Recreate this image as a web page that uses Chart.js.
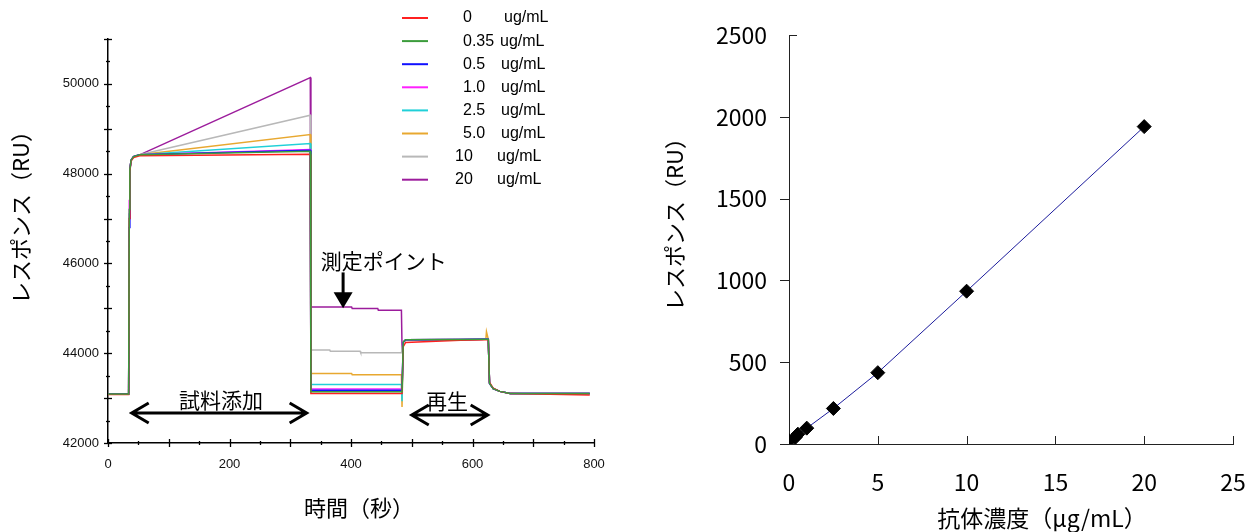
<!DOCTYPE html>
<html lang="ja">
<head>
    <meta charset="UTF-8">
    <title>センサーグラムと検量線</title>
    <style>
        * { margin: 0; padding: 0; box-sizing: border-box; }
        body { width: 1247px; height: 532px; background: #fff; position: relative; overflow: hidden; }
        #sensorBox { position: absolute; left: 0; top: 0; width: 620px; height: 532px; }
        #curveBox { position: absolute; left: 640px; top: 0; width: 607px; height: 532px; }
    </style>
    <script src="https://cdn.jsdelivr.net/npm/chart.js"></script>
</head>
<body>
    <div id="sensorBox"><canvas id="sensorChart" width="620" height="532"></canvas></div>
    <div id="curveBox"><canvas id="curveChart" width="607" height="532"></canvas></div>
    <script>
        // --- data: sensorgram (time in s, response in RU) ---
        const timeSec = [0, 34, 35, 36, 38, 42, 52, 333, 334, 335, 365, 366, 401, 402, 415, 416, 444, 445, 483, 484, 486, 490, 580, 622, 623, 626, 628, 634, 645, 662, 793];

        const resp0   = [43080, 43080, 47000, 48050, 48280, 48360, 48400, 48430, 43100, 43100, 43100, 43100, 43100, 43100, 43100, 43100, 43100, 43100, 43100, 43100, 44150, 44240, 44290, 44300, 44300, 44300, 43350, 43220, 43150, 43100, 43070];
        const resp035 = [43090, 43090, 47200, 48100, 48300, 48380, 48420, 48500, 43140, 43140, 43140, 43140, 43140, 43140, 43140, 43140, 43140, 43140, 43140, 43140, 44250, 44300, 44305, 44310, 44310, 44310, 43330, 43210, 43150, 43105, 43100];
        const resp05  = [43090, 43090, 46800, 48080, 48300, 48380, 48420, 48520, 43175, 43175, 43175, 43175, 43175, 43175, 43175, 43175, 43175, 43175, 43175, 43175, 44240, 44300, 44305, 44310, 44310, 44310, 43330, 43210, 43150, 43105, 43100];
        const resp1   = [43090, 43090, 47400, 48100, 48300, 48380, 48420, 48540, 43205, 43205, 43205, 43205, 43205, 43205, 43205, 43205, 43205, 43205, 43205, 43205, 44250, 44300, 44305, 44310, 44310, 44310, 43330, 43210, 43150, 43105, 43100];
        const resp25  = [43090, 43090, 47100, 48090, 48300, 48380, 48420, 48670, 43305, 43305, 43305, 43305, 43305, 43305, 43305, 43305, 43305, 43305, 43305, 42930, 44250, 44300, 44305, 44310, 44310, 44310, 43330, 43210, 43150, 43105, 43100];
        const resp5   = [43090, 43090, 47000, 48090, 48300, 48380, 48420, 48870, 43550, 43550, 43550, 43550, 43550, 43518, 43518, 43518, 43518, 43518, 43518, 42800, 44250, 44300, 44305, 44310, 44480, 44310, 43330, 43210, 43150, 43105, 43100];
        const resp10  = [43090, 43090, 47100, 48090, 48300, 48380, 48420, 49300, 44070, 44070, 44070, 44045, 44045, 44045, 44045, 44010, 44010, 44010, 44010, 44100, 44250, 44300, 44305, 44310, 44310, 44310, 43330, 43210, 43150, 43105, 43100];
        const resp20  = [43090, 43090, 47000, 48080, 48300, 48380, 48420, 50140, 45030, 45030, 45030, 45030, 45030, 44995, 44995, 44995, 44995, 44960, 44960, 44150, 44250, 44290, 44300, 44310, 44310, 44310, 43330, 43210, 43150, 43105, 43100];

        const concLabels = ['0', '0.35', '0.5', '1.0', '2.5', '5.0', '10', '20'];
        const sensorSeries = [resp0, resp035, resp05, resp1, resp25, resp5, resp10, resp20];
        const lineColors = ['#ff2020', '#3c9c3c', '#1010ff', '#ff20ff', '#20d0d8', '#e8a830', '#b8b8b8', '#9c1c9c'];

        // --- data: calibration curve ---
        const concUgMl = [0, 0.35, 0.5, 1.0, 2.5, 5, 10, 20];
        const responseRU = [20, 40, 60, 97, 217, 436, 934, 1940];

        const jpFont = "'Noto Sans CJK JP', 'Noto Sans', sans-serif";
        const enFont = "'Liberation Sans', Arial, sans-serif";

        // keep the plot area where the layout padding puts it
        function noScalePadding(s) {
            s.paddingLeft = 0; s.paddingRight = 0; s.paddingTop = 0; s.paddingBottom = 0;
        }

        function openArrow(ctx, x1, x2, y) {
            ctx.beginPath();
            ctx.moveTo(x1, y); ctx.lineTo(x2, y);
            ctx.moveTo(x1 + 17, y - 10); ctx.lineTo(x1, y); ctx.lineTo(x1 + 17, y + 10);
            ctx.moveTo(x2 - 17, y - 10); ctx.lineTo(x2, y); ctx.lineTo(x2 - 17, y + 10);
            ctx.stroke();
        }

        // ticks, legend, titles and notes for the sensorgram
        const sensorDecor = {
            id: 'sensorDecor',
            afterDraw(chart) {
                const ctx = chart.ctx;
                const xs = chart.scales.x, ys = chart.scales.y;
                ctx.save();
                ctx.strokeStyle = '#000';
                ctx.lineWidth = 1.3;
                ys.ticks.forEach(t => {
                    const py = Math.round(ys.getPixelForValue(t.value)) + 0.5;
                    const big = t.value % 1000 === 0;
                    ctx.beginPath();
                    ctx.moveTo(xs.left - (big ? 4 : 2), py);
                    ctx.lineTo(xs.left + (big ? 4 : 2), py);
                    ctx.stroke();
                });
                xs.ticks.forEach(t => {
                    const px = Math.round(xs.getPixelForValue(t.value)) + 0.5;
                    const big = t.value % 100 === 0;
                    ctx.beginPath();
                    ctx.moveTo(px, ys.bottom - (big ? 4 : 2));
                    ctx.lineTo(px, ys.bottom + (big ? 4 : 2));
                    ctx.stroke();
                });

                // legend
                ctx.textBaseline = 'middle';
                ctx.textAlign = 'left';
                ctx.font = '16px ' + enFont;
                concLabels.forEach((lab, i) => {
                    const ry = 18 + i * 23.1;
                    ctx.strokeStyle = lineColors[i];
                    ctx.lineWidth = 2;
                    ctx.beginPath(); ctx.moveTo(402, ry); ctx.lineTo(428, ry); ctx.stroke();
                    ctx.fillStyle = '#000';
                    ctx.fillText(lab, lab.length === 2 ? 455 : 463, ry);
                    const ux = i === 0 ? 504 : i === 1 ? 500 : i >= 6 ? 497 : 501;
                    ctx.fillText('ug/mL', ux, ry);
                });

                // axis titles
                ctx.fillStyle = '#000';
                ctx.font = '22px ' + jpFont;
                ctx.textAlign = 'center';
                ctx.fillText('時間（秒）', 359, 508);
                ctx.save();
                ctx.translate(21, 212);
                ctx.rotate(-Math.PI / 2);
                ctx.fillText('レスポンス（RU）', 0, 0);
                ctx.restore();

                // notes
                ctx.font = '21px ' + jpFont;
                ctx.strokeStyle = '#000';
                ctx.lineWidth = 3;
                ctx.lineJoin = 'miter';
                const arrowY1 = ys.getPixelForValue(42667);
                openArrow(ctx, xs.getPixelForValue(39), xs.getPixelForValue(327), arrowY1);
                ctx.fillText('試料添加', xs.getPixelForValue(186), ys.getPixelForValue(42956));
                const arrowY2 = ys.getPixelForValue(42622);
                openArrow(ctx, xs.getPixelForValue(500), xs.getPixelForValue(625), arrowY2);
                ctx.fillText('再生', xs.getPixelForValue(558), ys.getPixelForValue(42933));
                ctx.fillText('測定ポイント', xs.getPixelForValue(454), ys.getPixelForValue(46044));
                const ax = xs.getPixelForValue(387);
                const tipY = ys.getPixelForValue(45000);
                ctx.beginPath(); ctx.moveTo(ax, ys.getPixelForValue(45800)); ctx.lineTo(ax, tipY - 14); ctx.stroke();
                ctx.beginPath();
                ctx.moveTo(ax - 9.5, tipY - 16); ctx.lineTo(ax + 9.5, tipY - 16); ctx.lineTo(ax, tipY);
                ctx.closePath(); ctx.fillStyle = '#000'; ctx.fill();
                ctx.restore();
            }
        };

        // ticks and titles for the calibration curve
        const curveDecor = {
            id: 'curveDecor',
            afterDraw(chart) {
                const ctx = chart.ctx;
                const xs = chart.scales.x, ys = chart.scales.y;
                ctx.save();
                ctx.strokeStyle = '#222';
                ctx.lineWidth = 1;
                ys.ticks.forEach(t => {
                    const py = Math.round(ys.getPixelForValue(t.value)) + 0.5;
                    ctx.beginPath();
                    if (t.value === ys.max) { ctx.moveTo(xs.left, py); ctx.lineTo(xs.left + 8, py); }
                    else { ctx.moveTo(xs.left - 9, py); ctx.lineTo(xs.left, py); }
                    ctx.stroke();
                });
                xs.ticks.forEach(t => {
                    if (t.value === 0) return;
                    const px = Math.round(xs.getPixelForValue(t.value)) + 0.5;
                    ctx.beginPath(); ctx.moveTo(px, ys.bottom); ctx.lineTo(px, ys.bottom - 8); ctx.stroke();
                });
                ctx.fillStyle = '#000';
                ctx.font = '23px ' + jpFont;
                ctx.textAlign = 'center';
                ctx.textBaseline = 'middle';
                ctx.fillText('抗体濃度（μg/mL）', 402, 518);
                ctx.save();
                ctx.translate(35, 219);
                ctx.rotate(-Math.PI / 2);
                ctx.font = '22px ' + jpFont;
                ctx.fillText('レスポンス（RU）', 0, 0);
                ctx.restore();
                ctx.restore();
            }
        };

        new Chart(document.getElementById('sensorChart'), {
            type: 'line',
            data: {
                labels: timeSec,
                datasets: sensorSeries.map((vals, i) => ({
                    label: concLabels[i] + ' ug/mL',
                    data: vals.map((v, k) => ({ x: timeSec[k], y: v })),
                    borderColor: lineColors[i],
                    borderWidth: 1.5,
                    pointRadius: 0,
                    tension: 0,
                    fill: false,
                    order: i === 1 ? 0 : i + 1
                }))
            },
            options: {
                responsive: false,
                animation: false,
                layout: { padding: { top: 39, right: 26, left: 0, bottom: 0 } },
                plugins: { legend: { display: false }, tooltip: { enabled: false } },
                scales: {
                    x: {
                        type: 'linear', min: 0, max: 800,
                        grid: { display: false, drawTicks: false },
                        border: { display: true, color: '#000', width: 1.5 },
                        ticks: {
                            stepSize: 50, autoSkip: false, maxRotation: 0, padding: 14,
                            color: '#111', font: { family: enFont, size: 13 },
                            callback: v => (v % 200 === 0 ? String(v) : '')
                        },
                        afterFit: s => { s.height = 89; noScalePadding(s); }
                    },
                    y: {
                        min: 42000, max: 51000,
                        grid: { display: false, drawTicks: false },
                        border: { display: true, color: '#000', width: 1.5 },
                        ticks: {
                            stepSize: 500, autoSkip: false, padding: 9,
                            color: '#111', font: { family: enFont, size: 13 },
                            callback: v => (v % 2000 === 0 ? String(v) : '')
                        },
                        afterFit: s => { s.width = 108; noScalePadding(s); }
                    }
                }
            },
            plugins: [sensorDecor]
        });

        new Chart(document.getElementById('curveChart'), {
            type: 'scatter',
            data: {
                datasets: [{
                    label: 'レスポンス',
                    data: concUgMl.map((c, i) => ({ x: c, y: responseRU[i] })),
                    showLine: true,
                    borderColor: '#1c1c9c',
                    borderWidth: 1,
                    pointStyle: 'rectRot',
                    pointRadius: 7,
                    pointBackgroundColor: '#000',
                    pointBorderColor: '#000',
                    tension: 0
                }]
            },
            options: {
                responsive: false,
                animation: false,
                layout: { padding: { top: 35, right: 14, left: 0, bottom: 0 } },
                plugins: { legend: { display: false }, tooltip: { enabled: false } },
                scales: {
                    x: {
                        type: 'linear', min: 0, max: 25,
                        grid: { display: false, drawTicks: false },
                        border: { display: true, color: '#222', width: 1 },
                        ticks: {
                            stepSize: 5, maxRotation: 0, padding: 24,
                            color: '#000', font: { family: jpFont, size: 23 }
                        },
                        afterFit: s => { s.height = 88; noScalePadding(s); }
                    },
                    y: {
                        min: 0, max: 2500,
                        grid: { display: false, drawTicks: false },
                        border: { display: true, color: '#222', width: 1 },
                        ticks: {
                            stepSize: 500, padding: 22,
                            color: '#000', font: { family: jpFont, size: 23 },
                            callback: v => String(v)
                        },
                        afterFit: s => { s.width = 149; noScalePadding(s); }
                    }
                }
            },
            plugins: [curveDecor]
        });
    </script>
</body>
</html>
